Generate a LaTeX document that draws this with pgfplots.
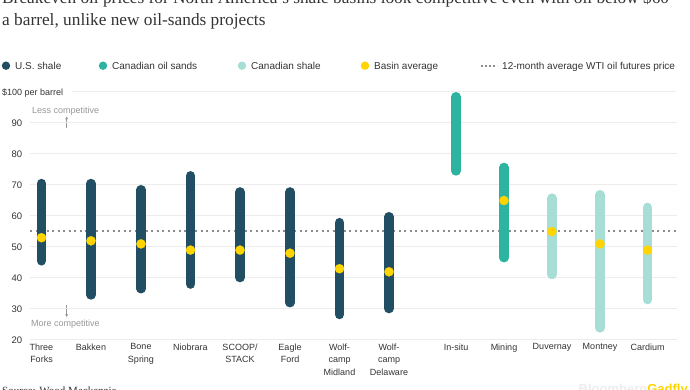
\documentclass[border=0pt]{standalone}
\usepackage{pgfplots}
\pgfplotsset{compat=1.18}
\usetikzlibrary{arrows.meta}
\usepackage{fontspec}
\setmainfont{Liberation Serif}
\setsansfont{Liberation Sans}
\definecolor{usshale}{RGB}{33,78,99}
\definecolor{oilsands}{RGB}{45,180,160}
\definecolor{canshale}{RGB}{166,222,214}
\definecolor{avgc}{RGB}{255,212,0}
\definecolor{gridc}{RGB}{236,236,236}
\definecolor{dotc}{RGB}{140,140,140}
\definecolor{txt}{RGB}{51,51,51}
\definecolor{subtle}{RGB}{150,150,150}
\begin{document}
\begin{tikzpicture}[x=1pt,y=1pt]
\useasboundingbox (0,0) rectangle (690,390);
% title
\node[anchor=base west,inner sep=0,text=txt,font=\rmfamily\fontsize{17.3}{20}\selectfont] at (2,386) {Breakeven oil prices for North America's shale basins look competitive even with oil below \$60};
\node[anchor=base west,inner sep=0,text=txt,font=\rmfamily\fontsize{17.3}{20}\selectfont] at (2,364) {a barrel, unlike new oil-sands projects};
% legend
\fill[usshale] (6,324.3) circle (4.2);
\node[anchor=base west,inner sep=0,text=txt,font=\sffamily\fontsize{10}{12}\selectfont] at (15,320.7) {U.S. shale};
\fill[oilsands] (103,324.3) circle (4.2);
\node[anchor=base west,inner sep=0,text=txt,font=\sffamily\fontsize{10}{12}\selectfont] at (112,320.7) {Canadian oil sands};
\fill[canshale] (242,324.3) circle (4.2);
\node[anchor=base west,inner sep=0,text=txt,font=\sffamily\fontsize{10}{12}\selectfont] at (251,320.7) {Canadian shale};
\fill[avgc] (365,324.3) circle (4.2);
\node[anchor=base west,inner sep=0,text=txt,font=\sffamily\fontsize{10}{12}\selectfont] at (374,320.7) {Basin average};
\draw[dotc,line width=2,dash pattern=on 2 off 2] (481,324.3) -- (497,324.3);
\node[anchor=base west,inner sep=0,text=txt,font=\sffamily\fontsize{10}{12}\selectfont] at (502,320.7) {12-month average WTI oil futures price};
% annotations
\node[anchor=base west,inner sep=0,text=txt,font=\sffamily\fontsize{9}{11}\selectfont] at (2,294.8) {\$100 per barrel};
\node[anchor=base west,inner sep=0,text=subtle,font=\sffamily\fontsize{9}{11}\selectfont] at (32,276.8) {Less competitive};
\draw[subtle,line width=0.7,-{Stealth[length=3pt,width=3pt]}] (66.7,262) -- (66.7,273.5);
\node[anchor=base west,inner sep=0,text=subtle,font=\sffamily\fontsize{9}{11}\selectfont] at (31,63.7) {More competitive};
\draw[subtle,line width=0.7,-{Stealth[length=3pt,width=3pt]}] (66.7,84.5) -- (66.7,73);
% source
\node[anchor=base west,inner sep=0,text=txt,font=\rmfamily\fontsize{11}{13}\selectfont] at (2,-4.5) {Source: Wood Mackenzie};
\node[anchor=base east,inner sep=0,font=\sffamily\bfseries\fontsize{13}{15}\selectfont] at (688,-3.5) {\textcolor{gridc}{Bloomberg}\textcolor{avgc}{Gadfly}};
\begin{axis}[
  at={(30pt,50pt)}, anchor=south west,
  scale only axis, width=647pt, height=248pt,
  xmin=30, xmax=677, ymin=20, ymax=100,
  clip=false,
  axis line style={draw=none},
  major tick length=0pt,
  ytick={20,30,...,90},
  ymajorgrids, grid style={gridc, line width=1pt},
  /pgf/number format/assume math mode=true,
  yticklabel style={anchor=west, xshift=-22pt, font=\sffamily\fontsize{9.5}{11}\selectfont, text=txt},
  xtick={41.5,91,141,190.5,240,290,339.5,389,456,504,552,600,647.5},
  xticklabels={Three\\Forks, Bakken, Bone\\Spring, Niobrara, SCOOP/\\STACK, Eagle\\Ford, Wolf-\\camp\\Midland, Wolf-\\camp\\Delaware, In-situ, Mining, Duvernay, Montney, Cardium},
  xticklabel style={align=center, font=\sffamily\fontsize{9}{12.5}\selectfont, text=txt, anchor=north},
  bar/.style={line width=9.5pt, line cap=round, shorten <=4.75pt, shorten >=4.75pt, mark=none},
]
\draw[gridc,line width=1pt] (axis cs:72,100) -- (axis cs:676,100);
% WTI dotted line
\addplot[dotc, line width=2pt, mark=none, dash pattern=on 2pt off 3.5pt] coordinates {(30,55) (676,55)};
% U.S. shale
\addplot[usshale,bar] coordinates {(41.5,44) (41.5,72)};
\addplot[usshale,bar] coordinates {(91,33) (91,72)};
\addplot[usshale,bar] coordinates {(141,35) (141,70)};
\addplot[usshale,bar] coordinates {(190.5,36.5) (190.5,74.5)};
\addplot[usshale,bar] coordinates {(240,38.6) (240,69.3)};
\addplot[usshale,bar] coordinates {(290,30.5) (290,69.3)};
\addplot[usshale,bar] coordinates {(339.5,26.7) (339.5,59.4)};
\addplot[usshale,bar] coordinates {(389,28.6) (389,61.3)};
% Canadian oil sands
\addplot[oilsands,bar] coordinates {(456,73) (456,100)};
\addplot[oilsands,bar] coordinates {(504,45) (504,77.2)};
% Canadian shale
\addplot[canshale,bar] coordinates {(552,39.6) (552,67.3)};
\addplot[canshale,bar] coordinates {(600,22.4) (600,68.4)};
\addplot[canshale,bar] coordinates {(647.5,31.5) (647.5,64.3)};
% basin averages
\addplot[avgc, only marks, mark=*, mark size=4.6pt, mark options={draw=avgc, fill=avgc, line width=0.2pt}] coordinates {
 (41.5,53) (91,52) (141,51) (190.5,49) (240,49) (290,48) (339.5,43) (389,42) (504,65) (552,55) (600,51) (647.5,49)};
\end{axis}
\end{tikzpicture}
\end{document}
